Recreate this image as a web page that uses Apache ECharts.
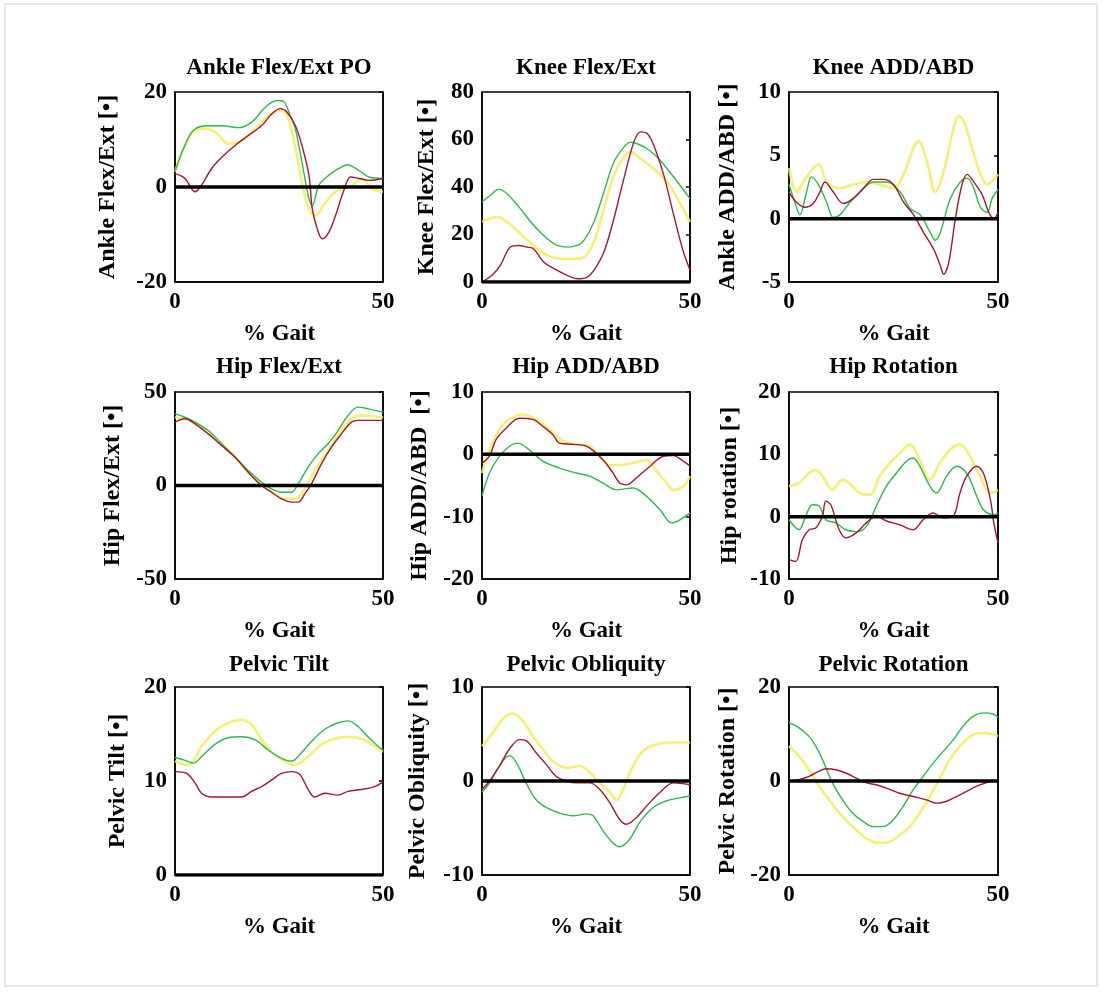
<!DOCTYPE html>
<html>
<head>
<meta charset="utf-8">
<script src="https://cdn.jsdelivr.net/npm/echarts@6/dist/echarts.min.js"></script>
<style>
  html, body { margin: 0; padding: 0; background: #fff; }
  #chart { width: 1103px; height: 995px; }
</style>
</head>
<body>
<div id="chart"></div>
<script>
// Panel titles, y-axis names and y ranges [min, max, interval]
const titles = ['Ankle Flex/Ext PO', 'Knee Flex/Ext', 'Knee ADD/ABD',
                'Hip Flex/Ext', 'Hip ADD/ABD', 'Hip Rotation',
                'Pelvic Tilt', 'Pelvic Obliquity', 'Pelvic Rotation'];
const yNames = ['Ankle Flex/Ext [•]', 'Knee Flex/Ext [•]', 'Ankle ADD/ABD [•]',
                'Hip Flex/Ext [•]', 'Hip ADD/ABD  [•]', 'Hip rotation [•]',
                'Pelvic Tilt [•]', 'Pelvic Obliquity [•]', 'Pelvic Rotation [•]'];
const yRanges = [[-20, 20, 20], [0, 80, 20], [-5, 10, 5],
                 [-50, 50, 50], [-20, 10, 10], [-10, 20, 10],
                 [0, 20, 10], [-10, 10, 10], [-20, 20, 20]];
const xRange = [0, 50, 50];
const xName = '% Gait';
const zeroLine = [[0, 0], [50, 0]];

// Joint angle curves: [% gait, angle in degrees]
const ankleFlexYellow = [[0,3.2],[2,8],[4,11.2],[6.4,12.3],[9.6,11.6],[12.9,9.1],[16.1,9.8],[19.3,12.3],[22.5,15],[24.9,16.1],[26.5,15.8],[28.1,11.6],[29.3,6.7],[30.5,1],[32.2,-4.6],[33.8,-6],[36.2,-3.2],[38.6,-1],[40.2,-0.4],[42.6,0.4],[45,1.8],[47.4,-0.4],[50,-1]];
const ankleFlexGreen = [[0,3.2],[2,8],[4.5,12],[8,12.9],[11.3,12.9],[15.3,12.5],[18.5,13.7],[21.7,16.8],[24.5,18.2],[26.1,18],[27.7,15],[28.9,12.3],[30.5,5.3],[32.2,-2.5],[33,-3.9],[34.6,0.4],[37,2.5],[39.4,3.9],[41.4,4.7],[44.2,3.5],[46.6,2.1],[50,1.8]];
const ankleFlexRed = [[0,2.8],[2.4,1.8],[4.8,-1],[6.4,0.4],[8.8,3.9],[11.3,6.3],[14.5,8.8],[17.7,10.9],[20.9,13],[23.3,15.4],[25.3,16.5],[26.9,15.8],[28.9,13],[30.5,8.8],[32.2,2.5],[33,-4.6],[34.2,-8.8],[35.4,-10.9],[37,-9.5],[38.6,-6],[40.6,-0.7],[42.2,2.1],[44.2,1.8],[46.6,1.4],[50,1.8]];

const kneeFlexYellow = [[0,25.3],[3.6,27.4],[6,25.3],[9.2,20.4],[12.4,15.4],[15.7,11.2],[18.9,9.8],[22.1,9.8],[24.5,10.5],[26.9,16.8],[29.3,30.9],[31.7,44.9],[34.1,52.6],[35.7,54.7],[38.1,51.9],[41.3,47.7],[44.5,42.1],[47,35.1],[50,25.3]];
const kneeFlexGreen = [[0,33.7],[2,36.5],[4,39],[6,37.2],[9.2,30.9],[12.4,23.9],[15.7,18.2],[18.1,15.4],[20.5,14.7],[22.9,15.4],[24.5,17.5],[26.9,25.3],[29.3,37.9],[31.7,50.5],[34.1,56.8],[35.7,58.9],[37.3,58.2],[39.7,56.1],[42.1,52.6],[44.5,47.7],[47,42.1],[50,35.1]];
const kneeFlexRed = [[0,0],[2.4,2.8],[4.4,7],[6.8,14.7],[8.8,15.4],[10.8,14.7],[12.4,14],[14.8,8.4],[17.3,5.6],[20.5,2.8],[22.9,1.4],[25.3,2.1],[26.9,4.9],[29.3,12.6],[31.7,26.7],[34.1,43.5],[36.5,58.9],[38.1,63.2],[39.7,62.5],[41.3,57.5],[43.7,44.9],[46.1,28.1],[48.2,14],[50,4.9]];

const kneeAddYellow = [[0,4],[1.8,2.1],[3.4,2.9],[5.8,4],[7.2,4.3],[9,2.9],[12.2,2.4],[15.4,2.7],[18.6,2.9],[21.8,2.7],[25,2.4],[27.4,3.5],[29.8,5.6],[31,6.1],[33,4.5],[35,2.1],[37,3.7],[39.4,7.2],[40.6,8.1],[41.8,7.7],[43.8,5.6],[45.8,3.5],[47.4,2.7],[50,3.5]];
const kneeAddGreen = [[0,2.7],[1.4,1.3],[2.6,0.3],[4.2,2.1],[5.4,3.3],[7,2.7],[9,1.3],[10.6,0.1],[12.2,0.3],[14.6,1.3],[17,2.1],[20.2,2.9],[23.4,2.9],[26.6,2.1],[29,0.8],[31.4,0.3],[33.8,-1.1],[35,-1.7],[36.2,-1.1],[38.6,1.6],[41,2.9],[42.6,3.2],[44.2,2.4],[45.8,0.9],[47.4,0.5],[48.6,1.6],[50,2.3]];
const kneeAddRed = [[0,2.1],[1.8,1.3],[3.8,0.9],[5.8,1.2],[7.4,2.1],[8.6,2.9],[10.6,2.1],[13,1.2],[15.4,1.6],[17.8,2.4],[20.2,3.1],[22.6,3.1],[25,2.7],[27.4,1.3],[29.8,0.3],[32.2,-1.1],[34.6,-2.4],[36.2,-3.7],[37,-4.4],[38.2,-3.5],[39.8,0],[41.4,2.7],[42.6,3.5],[44.2,2.9],[46.2,1.9],[47.8,0.5],[49,0],[50,0.5]];

const hipFlexYellow = [[0,36.5],[4.8,33.9],[8,28.5],[11.2,22.3],[14.4,15.2],[17.6,7.1],[20.8,0.9],[24,-4.5],[26.4,-7.1],[28.8,-7.1],[31.2,-1.8],[33.6,8],[36.8,18.7],[40,29.4],[42.4,35.7],[44.8,37.4],[50,36.5]];
const hipFlexGreen = [[0,38.3],[2.4,36.5],[4.8,33.9],[8,29.4],[11.2,22.3],[14.4,15.2],[17.6,8],[20.8,1.8],[23.2,-1.8],[25.6,-3.6],[28,-3.6],[29.6,0.9],[32,9.8],[34.4,16.9],[36.8,22.3],[39.2,29.4],[41.6,37.4],[44,41.9],[46.4,41],[50,39.2]];
const hipFlexRed = [[0,33.9],[2.4,35.7],[4.8,33],[8,27.6],[11.2,21.4],[14.4,15.2],[17.6,7.1],[20.8,0],[23.2,-3.6],[25.6,-7.1],[28,-8.9],[29.6,-8.9],[31.2,-4.5],[32.8,0.9],[35.2,11.6],[37.6,20.5],[40,27.6],[42.4,33.9],[44,34.8],[50,34.8]];

const hipAddYellow = [[0,-3],[1.8,0.7],[4.2,4],[6.6,5.6],[9.8,6.4],[13,5.6],[16.2,4],[19.5,2.1],[22.7,1.6],[25.9,1.3],[28.3,-0.3],[30.7,-1.7],[33.1,-1.7],[36.3,-1.4],[39.5,-0.9],[42,-2.7],[44.4,-4.6],[46,-5.7],[48.4,-5.1],[50,-3.5]];
const hipAddGreen = [[0,-6.7],[1.8,-3],[4.2,-0.3],[6.6,1.3],[8.6,1.8],[11.4,0.7],[14.6,-1.1],[18.6,-2.2],[22.7,-3],[25.9,-3.5],[29.1,-4.6],[32.3,-5.7],[36.3,-5.4],[39.5,-6.7],[42.8,-8.9],[45.6,-11],[47.6,-10.5],[50,-9.4]];
const hipAddRed = [[0,-1.4],[1.8,-0.3],[3.4,2.4],[5.8,4.2],[9,5.8],[12.2,5.6],[14.6,4.5],[17,3.2],[18.6,1.8],[21.9,1.6],[25.1,1.3],[29.1,-0.9],[31.5,-3],[33.1,-4.6],[34.7,-4.9],[37.1,-3.8],[40.4,-1.9],[43.6,-0.3],[46,-0.2],[48.4,-1.1],[50,-1.9]];

const hipRotYellow = [[0,4.9],[2.4,5.4],[4.8,7],[6.4,7.5],[8,6.5],[10.4,4.3],[12.8,5.9],[14.4,5.4],[16.9,3.8],[19.3,3.5],[21.7,6.5],[24.1,8.6],[26.5,10.2],[28.9,11.6],[31.3,9.1],[33.7,5.9],[36.1,8.6],[38.5,10.7],[40.9,11.6],[43.3,9.7],[45.7,6.5],[48.2,3.8],[50,4.3]];
const hipRotGreen = [[0,-0.5],[2.4,-2.1],[4,0.1],[5.6,1.9],[7.2,1.7],[8.8,-0.5],[11.2,-1],[13.6,-2.1],[16.1,-2.4],[18.5,-1.6],[20.9,1.7],[23.3,4.9],[25.7,7],[28.1,8.9],[29.7,9.4],[31.3,8.1],[33.7,4.9],[35.3,3.8],[37.7,6.5],[40.1,8.1],[42.5,7],[44.9,3.3],[46.5,1.1],[49,0.3],[50,0.6]];
const hipRotRed = [[0,-6.9],[1.6,-7.2],[3.2,-3.7],[4.8,-2.1],[6.4,-1.8],[8,0.1],[8.8,2.5],[10,1.9],[12,-2.1],[13.6,-3.4],[16.1,-2.6],[18.5,-1],[20.9,0.1],[23.3,-0.7],[26.5,-1.3],[29.7,-2.1],[32.1,-0.5],[34.5,0.6],[36.9,-0.2],[39.3,0.1],[40.9,3.8],[42.5,6.5],[44.9,8.1],[46.5,7],[48.2,2.7],[49,-1],[50,-4.2]];

const pelvicTiltYellow = [[0,12.1],[3.2,11.7],[6.4,13.7],[9.6,15.3],[12.8,16.2],[16,16.5],[18.4,16],[20.8,14.4],[23.2,13.1],[25.6,12.3],[28.8,11.7],[32,12.6],[35.2,13.9],[38.4,14.5],[41.6,14.7],[44.8,14.5],[48,13.7],[50,13.1]];
const pelvicTiltGreen = [[0,12.5],[2.4,12.2],[4.4,11.9],[6.4,12.6],[9.6,13.9],[12.8,14.6],[16,14.7],[19.2,14.4],[22.4,13.3],[25.6,12.4],[28,12.1],[30.4,13],[32.8,14.2],[36,15.5],[39.2,16.2],[41.6,16.4],[44,15.8],[46.4,14.7],[48.8,13.7],[50,13.3]];
const pelvicTiltRed = [[0,11],[2.8,10.8],[4.8,9.8],[6.4,8.7],[8.8,8.3],[12.8,8.3],[16,8.3],[18.4,8.9],[20.8,9.4],[23.2,10.1],[25.6,10.8],[28,11],[30,10.7],[32,9.1],[33.6,8.3],[36,8.7],[39.2,8.5],[41.6,8.9],[44.8,9.1],[48,9.4],[50,9.9]];

const pelvicOblYellow = [[0,3.7],[2.6,5.1],[5,6.6],[7.4,7.2],[9.8,6.4],[12.2,4.8],[14.6,3.4],[17,2.1],[20.3,1.4],[23.5,1.6],[25.9,0.9],[28.3,-0.2],[30.7,-1.2],[32.3,-2],[33.9,-0.9],[36.3,1.6],[38.7,3.2],[42,3.9],[45.2,4.1],[50,4.1]];
const pelvicOblGreen = [[0,-1.2],[1.8,-0.2],[4.2,1.6],[6.6,2.7],[8.2,2],[10.6,-0.2],[13,-2],[15.4,-2.8],[18.6,-3.4],[21.9,-3.7],[25.1,-3.5],[26.7,-3.7],[29.1,-5.3],[31.5,-6.6],[33.1,-7],[35.5,-6.2],[37.9,-4.4],[41.2,-2.8],[44.4,-2.1],[47.6,-1.8],[50,-1.6]];
const pelvicOblRed = [[0,-0.9],[1.8,0],[4.2,1.6],[6.6,3.4],[9,4.4],[10.6,4.3],[13,3],[15.4,1.8],[17.8,0.5],[20.3,0],[22.7,-0.2],[25.9,-0.2],[28.3,-0.9],[30.7,-2.3],[33.1,-4.1],[34.7,-4.6],[37.1,-3.9],[39.5,-2.7],[42.8,-1.2],[46,-0.2],[50,-0.4]];

const pelvicRotYellow = [[0,7.4],[2.4,5.3],[4.8,2.4],[7.2,-1.1],[9.6,-4],[12,-6.8],[15.2,-9.7],[18.5,-12.2],[21.7,-13.2],[24.1,-12.9],[26.5,-11.5],[28.9,-9.7],[31.3,-6.8],[33.7,-3.3],[36.1,0.6],[38.5,4.6],[40.9,7.4],[43.3,9.5],[45.7,10.2],[49,9.9],[50,9.5]];
const pelvicRotGreen = [[0,12.4],[2.4,11.3],[4.8,9.5],[6.4,7.4],[8,4.6],[10.4,-0.4],[12.8,-4],[15.2,-6.8],[17.7,-8.6],[20.1,-9.7],[22.5,-9.7],[24.9,-8.3],[27.3,-5.4],[29.7,-1.9],[32.1,1],[34.5,3.8],[36.9,6.3],[39.3,8.8],[41.7,11.7],[44.1,13.8],[46.5,14.5],[49,14.2],[50,13.5]];
const pelvicRotRed = [[0,0],[2.4,0.3],[4.8,1],[7.2,2.1],[8.8,2.6],[11.2,2.4],[13.6,1.7],[16.1,0.6],[18.5,-0.4],[20.9,-0.8],[23.3,-1.5],[26.5,-2.6],[29.7,-3.3],[32.9,-4],[35.3,-4.7],[37.7,-4.3],[40.1,-3.3],[42.5,-2.2],[44.9,-1.1],[47.4,-0.3],[49,0.1]];

const yellowCurves = [ankleFlexYellow, kneeFlexYellow, kneeAddYellow, hipFlexYellow, hipAddYellow, hipRotYellow, pelvicTiltYellow, pelvicOblYellow, pelvicRotYellow];
const greenCurves = [ankleFlexGreen, kneeFlexGreen, kneeAddGreen, hipFlexGreen, hipAddGreen, hipRotGreen, pelvicTiltGreen, pelvicOblGreen, pelvicRotGreen];
const redCurves = [ankleFlexRed, kneeFlexRed, kneeAddRed, hipFlexRed, hipAddRed, hipRotRed, pelvicTiltRed, pelvicOblRed, pelvicRotRed];

// ---- layout & style ----
const FONT = '"Liberation Serif", "Times New Roman", serif';
const colLeft = [175, 482, 789];
const colWidth = [208, 208, 209];
const rowTop = [92, 392, 687];
const rowHeight = [190, 187, 188];
const yNameGap = [55, 43, 49, 50, 50, 47, 45, 52, 49];
const titleY = [68, 367, 665];

const tickStyle = { fontFamily: FONT, fontWeight: 'bold', fontSize: 23, color: '#000' };
const xNameStyle = { fontFamily: FONT, fontWeight: 'bold', fontSize: 23, color: '#000' };
const yNameStyle = { fontFamily: FONT, fontWeight: 'bold', fontSize: 24, color: '#000' };
const curveStyles = [
  { color: '#f3ec5c', width: 2.6, opacity: 0.85 },
  { color: '#2fb84b', width: 1.4, opacity: 1 },
  { color: '#a31830', width: 1.4, opacity: 1 }
];

const grid = [], xAxis = [], yAxis = [], series = [], graphic = [];

graphic.push({
  type: 'rect', z: -10, silent: true,
  shape: { x: 5, y: 4, width: 1092, height: 982 },
  style: { fill: 'none', stroke: '#e4e6e8', lineWidth: 2 }
});

for (let i = 0; i < 9; i++) {
  const r = Math.floor(i / 3), c = i % 3;
  const left = colLeft[c], top = rowTop[r], w = colWidth[c], h = rowHeight[r];
  grid.push({ left, top, width: w, height: h, containLabel: false,
              show: true, borderColor: '#000', borderWidth: 1.5, backgroundColor: '#fff' });

  xAxis.push({
    gridIndex: i, type: 'value', min: xRange[0], max: xRange[1], interval: xRange[2],
    axisLine: { show: true, onZero: false, lineStyle: { color: '#000', width: 1.5 } },
    axisTick: { show: false }, splitLine: { show: false },
    axisLabel: Object.assign({ margin: 9 }, tickStyle),
    name: xName, nameLocation: 'middle', nameGap: 41, nameTextStyle: xNameStyle
  });

  const [ymin, ymax, yint] = yRanges[i];
  yAxis.push({
    gridIndex: i, type: 'value', min: ymin, max: ymax, interval: yint, position: 'left',
    axisLine: { show: true, onZero: false, lineStyle: { color: '#000', width: 1.5 } },
    axisTick: { show: false }, splitLine: { show: false },
    axisLabel: Object.assign({ margin: 8 }, tickStyle),
    name: yNames[i], nameLocation: 'middle', nameGap: yNameGap[i], nameTextStyle: yNameStyle
  });
  // right-hand frame with short inward ticks
  yAxis.push({
    gridIndex: i, type: 'value', min: ymin, max: ymax, interval: yint, position: 'right',
    axisLine: { show: true, onZero: false, lineStyle: { color: '#000', width: 1.5 } },
    axisTick: { show: true, inside: true, length: 4, lineStyle: { color: '#000', width: 1.5 } },
    axisLabel: { show: false }, splitLine: { show: false }
  });

  [yellowCurves[i], greenCurves[i], redCurves[i]].forEach((data, k) => {
    const st = curveStyles[k];
    series.push({
      type: 'line', xAxisIndex: i, yAxisIndex: 2 * i, data,
      showSymbol: false, smooth: 0.35, silent: true, z: 2 + k,
      lineStyle: { color: st.color, width: st.width, opacity: st.opacity }
    });
  });
  series.push({
    type: 'line', xAxisIndex: i, yAxisIndex: 2 * i, data: zeroLine,
    showSymbol: false, silent: true, z: 6,
    lineStyle: { color: '#000', width: 3.5 }
  });

  graphic.push({
    type: 'text', silent: true,
    x: left + w / 2, y: titleY[r],
    style: { text: titles[i], font: 'bold 23px ' + FONT, fill: '#000',
             align: 'center', verticalAlign: 'middle', textAlign: 'center', textVerticalAlign: 'middle' }
  });
}

const chart = echarts.init(document.getElementById('chart'), null, { renderer: 'canvas' });
chart.setOption({
  animation: false,
  backgroundColor: '#fff',
  grid, xAxis, yAxis, series, graphic
});
</script>
</body>
</html>
